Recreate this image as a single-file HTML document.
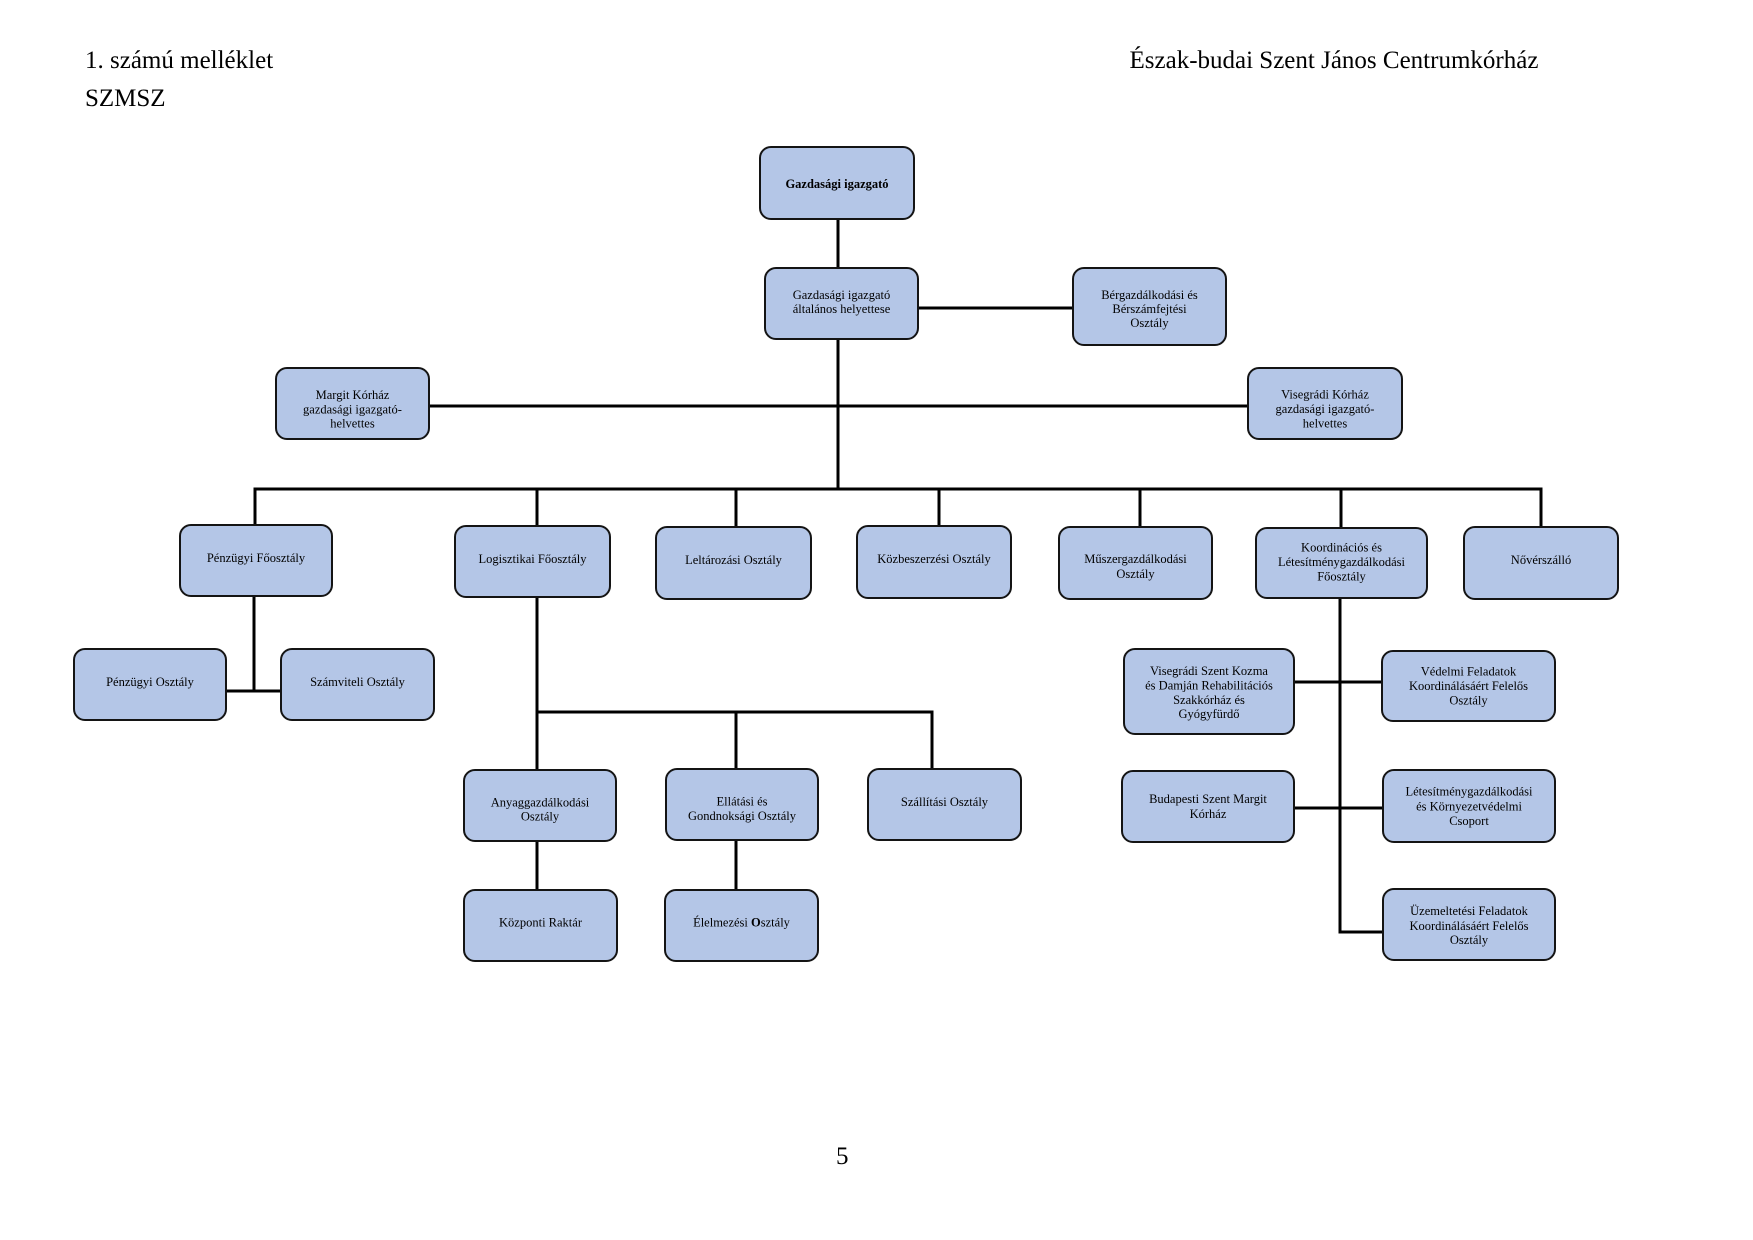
<!DOCTYPE html>
<html>
<head>
<meta charset="utf-8">
<style>
  html, body { margin: 0; padding: 0; background: #ffffff; }
  svg { display: block; }
  .hdr { font-family: "Liberation Serif", serif; font-size: 25px; fill: #000; }
  .t { font-family: "Liberation Serif", serif; font-size: 12.5px; fill: #000; text-anchor: middle; }
  .b { fill: #b4c6e7; stroke: #141414; stroke-width: 2; }
  .l { stroke: #000; stroke-width: 3; fill: none; }
</style>
</head>
<body>
<svg width="1753" height="1240" viewBox="0 0 1753 1240" xmlns="http://www.w3.org/2000/svg">
  <!-- header -->
  <text class="hdr" x="85" y="68">1. számú melléklet</text>
  <text class="hdr" x="85" y="106">SZMSZ</text>
  <text class="hdr" x="1129.5" y="68">Észak-budai Szent János Centrumkórház</text>
  <text class="hdr" x="836" y="1164">5</text>

  <!-- connectors -->
  <path class="l" d="M838 219 V268"/>
  <path class="l" d="M918 308 H1073"/>
  <path class="l" d="M838 339 V489"/>
  <path class="l" d="M429 406 H1248"/>
  <path class="l" d="M255 489 H1541"/>
  <path class="l" d="M255 487.5 V525"/>
  <path class="l" d="M537 489 V526"/>
  <path class="l" d="M736 489 V527"/>
  <path class="l" d="M939 489 V526"/>
  <path class="l" d="M1140 489 V527"/>
  <path class="l" d="M1341 489 V528"/>
  <path class="l" d="M1541 487.5 V527"/>
  <!-- Pénzügyi -->
  <path class="l" d="M254 596 V691"/>
  <path class="l" d="M226 691 H281"/>
  <!-- Logisztikai -->
  <path class="l" d="M537 597 V770"/>
  <path class="l" d="M537 712 H932 V769"/>
  <path class="l" d="M736 712 V769"/>
  <path class="l" d="M537 841 V890"/>
  <path class="l" d="M736 840 V890"/>
  <!-- Koordinációs -->
  <path class="l" d="M1340 598 V932 H1383"/>
  <path class="l" d="M1294 682 H1382"/>
  <path class="l" d="M1294 808 H1383"/>

  <!-- boxes -->
  <rect class="b" x="760" y="147" width="154" height="72" rx="11"/>
  <rect class="b" x="765" y="268" width="153" height="71" rx="11"/>
  <rect class="b" x="1073" y="268" width="153" height="77" rx="11"/>
  <rect class="b" x="276" y="368" width="153" height="71" rx="11"/>
  <rect class="b" x="1248" y="368" width="154" height="71" rx="11"/>
  <rect class="b" x="180" y="525" width="152" height="71" rx="11"/>
  <rect class="b" x="455" y="526" width="155" height="71" rx="11"/>
  <rect class="b" x="656" y="527" width="155" height="72" rx="11"/>
  <rect class="b" x="857" y="526" width="154" height="72" rx="11"/>
  <rect class="b" x="1059" y="527" width="153" height="72" rx="11"/>
  <rect class="b" x="1256" y="528" width="171" height="70" rx="11"/>
  <rect class="b" x="1464" y="527" width="154" height="72" rx="11"/>
  <rect class="b" x="74" y="649" width="152" height="71" rx="11"/>
  <rect class="b" x="281" y="649" width="153" height="71" rx="11"/>
  <rect class="b" x="1124" y="649" width="170" height="85" rx="11"/>
  <rect class="b" x="1382" y="651" width="173" height="70" rx="11"/>
  <rect class="b" x="464" y="770" width="152" height="71" rx="11"/>
  <rect class="b" x="666" y="769" width="152" height="71" rx="11"/>
  <rect class="b" x="868" y="769" width="153" height="71" rx="11"/>
  <rect class="b" x="1122" y="771" width="172" height="71" rx="11"/>
  <rect class="b" x="1383" y="770" width="172" height="72" rx="11"/>
  <rect class="b" x="464" y="890" width="153" height="71" rx="11"/>
  <rect class="b" x="665" y="890" width="153" height="71" rx="11"/>
  <rect class="b" x="1383" y="889" width="172" height="71" rx="11"/>

  <!-- labels -->
  <text class="t" x="837" y="188" font-weight="bold">Gazdasági igazgató</text>

  <text class="t" x="841.5" y="299">Gazdasági igazgató</text>
  <text class="t" x="841.5" y="313">általános helyettese</text>

  <text class="t" x="1149.5" y="299">Bérgazdálkodási és</text>
  <text class="t" x="1149.5" y="313">Bérszámfejtési</text>
  <text class="t" x="1149.5" y="327">Osztály</text>

  <text class="t" x="352.5" y="399">Margit Kórház</text>
  <text class="t" x="352.5" y="413.5">gazdasági igazgató-</text>
  <text class="t" x="352.5" y="427.5">helvettes</text>

  <text class="t" x="1325" y="398.5">Visegrádi Kórház</text>
  <text class="t" x="1325" y="413">gazdasági igazgató-</text>
  <text class="t" x="1325" y="427.5">helvettes</text>

  <text class="t" x="256" y="562">Pénzügyi Főosztály</text>
  <text class="t" x="532.5" y="563">Logisztikai Főosztály</text>
  <text class="t" x="733.5" y="564">Leltározási Osztály</text>
  <text class="t" x="934" y="563">Közbeszerzési Osztály</text>
  <text class="t" x="1135.5" y="563">Műszergazdálkodási</text>
  <text class="t" x="1135.5" y="578">Osztály</text>
  <text class="t" x="1341.5" y="551.5">Koordinációs és</text>
  <text class="t" x="1341.5" y="566">Létesítménygazdálkodási</text>
  <text class="t" x="1341.5" y="580.5">Főosztály</text>
  <text class="t" x="1541" y="564">Nővérszálló</text>

  <text class="t" x="150" y="686">Pénzügyi Osztály</text>
  <text class="t" x="357.5" y="686">Számviteli Osztály</text>

  <text class="t" x="1209" y="675">Visegrádi Szent Kozma</text>
  <text class="t" x="1209" y="689.5">és Damján Rehabilitációs</text>
  <text class="t" x="1209" y="704">Szakkórház és</text>
  <text class="t" x="1209" y="718">Gyógyfürdő</text>

  <text class="t" x="1468.5" y="675.5">Védelmi Feladatok</text>
  <text class="t" x="1468.5" y="690">Koordinálásáért Felelős</text>
  <text class="t" x="1468.5" y="704.5">Osztály</text>

  <text class="t" x="540" y="806.5">Anyaggazdálkodási</text>
  <text class="t" x="540" y="820.5">Osztály</text>

  <text class="t" x="742" y="805.5">Ellátási és</text>
  <text class="t" x="742" y="820">Gondnoksági Osztály</text>

  <text class="t" x="944.5" y="806">Szállítási Osztály</text>

  <text class="t" x="1208" y="803">Budapesti Szent Margit</text>
  <text class="t" x="1208" y="818">Kórház</text>

  <text class="t" x="1469" y="795.5">Létesítménygazdálkodási</text>
  <text class="t" x="1469" y="810.5">és Környezetvédelmi</text>
  <text class="t" x="1469" y="825">Csoport</text>

  <text class="t" x="540.5" y="926.5">Központi Raktár</text>
  <text class="t" x="741.5" y="926.5">Élelmezési <tspan font-weight="bold">O</tspan>sztály</text>

  <text class="t" x="1469" y="915">Üzemeltetési Feladatok</text>
  <text class="t" x="1469" y="930">Koordinálásáért Felelős</text>
  <text class="t" x="1469" y="944">Osztály</text>
</svg>
</body>
</html>
